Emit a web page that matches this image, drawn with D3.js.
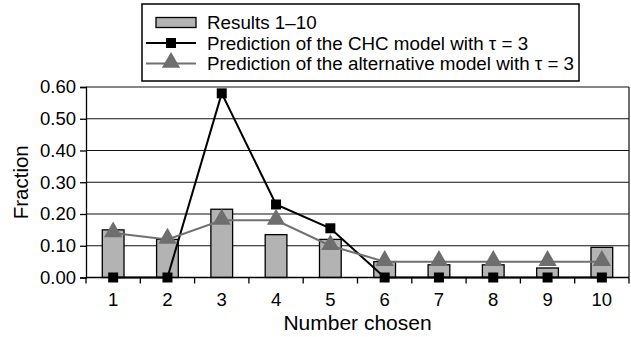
<!DOCTYPE html>
<html>
<head>
<meta charset="utf-8">
<script src="https://cdn.jsdelivr.net/npm/d3@7"></script>
<style>
  html, body { margin: 0; padding: 0; background: #fff; }
  svg { display: block; }
  text { font-family: "Liberation Sans", Arial, Helvetica, sans-serif; fill: #000; }
</style>
</head>
<body>
<svg id="chart" width="631" height="337"></svg>
<script>
// Numbers 1–10 chosen by players, observed fractions and two model predictions
const categories = ["1", "2", "3", "4", "5", "6", "7", "8", "9", "10"];
const results = [0.15, 0.12, 0.215, 0.135, 0.12, 0.05, 0.04, 0.04, 0.03, 0.095];
const chcPrediction = [0.0, 0.0, 0.58, 0.23, 0.155, 0.0, 0.0, 0.0, 0.0, 0.0];
const altPrediction = [0.14, 0.12, 0.18, 0.18, 0.10, 0.05, 0.05, 0.05, 0.05, 0.05];
const yTicks = [0, 0.1, 0.2, 0.3, 0.4, 0.5, 0.6];
const legendLabels = [
  "Results 1\u201310",
  "Prediction of the CHC model with \u03c4 = 3",
  "Prediction of the alternative model with \u03c4 = 3"
];
const xTitle = "Number chosen";
const yTitle = "Fraction";

const svg = d3.select("#chart");
const plot = { left: 86, right: 629, top: 87, bottom: 277.5 };

const x = d3.scaleBand().domain(categories).range([plot.left, plot.right]).paddingInner(0.6).paddingOuter(0.3);
const xOuter = d3.scaleBand().domain(categories).range([plot.left, plot.right]);
const y = d3.scaleLinear().domain([0, 0.6]).range([plot.bottom, plot.top]);
const cx = d => xOuter(d) + xOuter.bandwidth() / 2;

// horizontal gridlines
svg.append("g").selectAll("line").data(yTicks.filter(t => t > 0)).join("line")
  .attr("x1", plot.left).attr("x2", plot.right)
  .attr("y1", d => y(d)).attr("y2", d => y(d))
  .attr("stroke", "#111").attr("stroke-width", 1.2);
// right frame edge
svg.append("line")
  .attr("x1", plot.right).attr("x2", plot.right)
  .attr("y1", y(0.6)).attr("y2", y(0))
  .attr("stroke", "#111").attr("stroke-width", 1.2);

// bars
svg.append("g").selectAll("rect").data(results).join("rect")
  .attr("x", (d, i) => x(categories[i]))
  .attr("width", x.bandwidth())
  .attr("y", d => y(d))
  .attr("height", d => y(0) - y(d))
  .attr("fill", "#b3b3b3").attr("stroke", "#000").attr("stroke-width", 1.3);

// y axis
const yAxis = svg.append("g").attr("transform", `translate(${plot.left},0)`)
  .call(d3.axisLeft(y).tickValues(yTicks).tickFormat(d3.format(".2f")).tickSize(6).tickPadding(4));
yAxis.select(".domain").attr("stroke", "#000").attr("stroke-width", 1.3);
yAxis.selectAll(".tick line").attr("stroke", "#000").attr("stroke-width", 1.3);
yAxis.selectAll("text").attr("font-size", 18.5).attr("font-family", "Liberation Sans, Arial, sans-serif").attr("fill", "#000");

// x axis: ticks at category boundaries, labels centred in each category
const boundaries = categories.map(c => xOuter(c)).concat([plot.right]);
const xg = svg.append("g");
xg.append("line").attr("x1", plot.left).attr("x2", plot.right)
  .attr("y1", y(0)).attr("y2", y(0)).attr("stroke", "#000").attr("stroke-width", 1.6);
xg.selectAll("line.tick").data(boundaries).join("line").attr("class", "tick")
  .attr("x1", d => d).attr("x2", d => d)
  .attr("y1", y(0)).attr("y2", y(0) + 6)
  .attr("stroke", "#000").attr("stroke-width", 1.3);
xg.selectAll("text").data(categories).join("text")
  .attr("x", d => cx(d)).attr("y", 306)
  .attr("text-anchor", "middle").attr("font-size", 18.5)
  .text(d => d);

// model prediction lines
const line = d3.line().x((d, i) => cx(categories[i])).y(d => y(d));
svg.append("path").datum(chcPrediction).attr("d", line)
  .attr("fill", "none").attr("stroke", "#000").attr("stroke-width", 2);
svg.append("path").datum(altPrediction).attr("d", line)
  .attr("fill", "none").attr("stroke", "#707070").attr("stroke-width", 2);

// CHC square markers
const sq = 10;
svg.append("g").selectAll("rect").data(chcPrediction).join("rect")
  .attr("x", (d, i) => cx(categories[i]) - sq / 2)
  .attr("y", d => y(d) - sq / 2)
  .attr("width", sq).attr("height", sq).attr("fill", "#000");

// alternative-model triangle markers
const tri = d3.symbol().type(d3.symbolTriangle).size(145);
svg.append("g").selectAll("path").data(altPrediction).join("path")
  .attr("d", tri)
  .attr("transform", (d, i) => `translate(${cx(categories[i])},${y(d) - 1})`)
  .attr("fill", "#6e6e6e");

// axis titles
svg.append("text").attr("x", (plot.left + plot.right) / 2).attr("y", 330)
  .attr("text-anchor", "middle").attr("font-size", 21).text(xTitle);
svg.append("text").attr("transform", `translate(28,${(plot.top + plot.bottom) / 2}) rotate(-90)`)
  .attr("text-anchor", "middle").attr("font-size", 20.5).text(yTitle);

// legend
const lg = svg.append("g");
lg.append("rect").attr("x", 142).attr("y", 4).attr("width", 437).attr("height", 77)
  .attr("fill", "#fff").attr("stroke", "#000").attr("stroke-width", 1.5);
const rowY = [22.5, 43, 63.5];
const keyX0 = 146, keyX1 = 196, keyMid = (keyX0 + keyX1) / 2;
lg.append("rect").attr("x", 156).attr("y", rowY[0] - 5).attr("width", 40).attr("height", 10)
  .attr("fill", "#b3b3b3").attr("stroke", "#000").attr("stroke-width", 1.3);
lg.append("line").attr("x1", keyX0).attr("x2", keyX1).attr("y1", rowY[1]).attr("y2", rowY[1])
  .attr("stroke", "#000").attr("stroke-width", 2);
lg.append("rect").attr("x", keyMid - sq / 2).attr("y", rowY[1] - sq / 2).attr("width", sq).attr("height", sq).attr("fill", "#000");
lg.append("line").attr("x1", keyX0).attr("x2", keyX1).attr("y1", rowY[2]).attr("y2", rowY[2])
  .attr("stroke", "#707070").attr("stroke-width", 2);
lg.append("path").attr("d", tri).attr("transform", `translate(${keyMid},${rowY[2] - 1})`).attr("fill", "#6e6e6e");
lg.selectAll("text.lab").data(legendLabels).join("text").attr("class", "lab")
  .attr("x", 207).attr("y", (d, i) => rowY[i] + 6.5)
  .attr("font-size", 18.8).text(d => d);
</script>
</body>
</html>
